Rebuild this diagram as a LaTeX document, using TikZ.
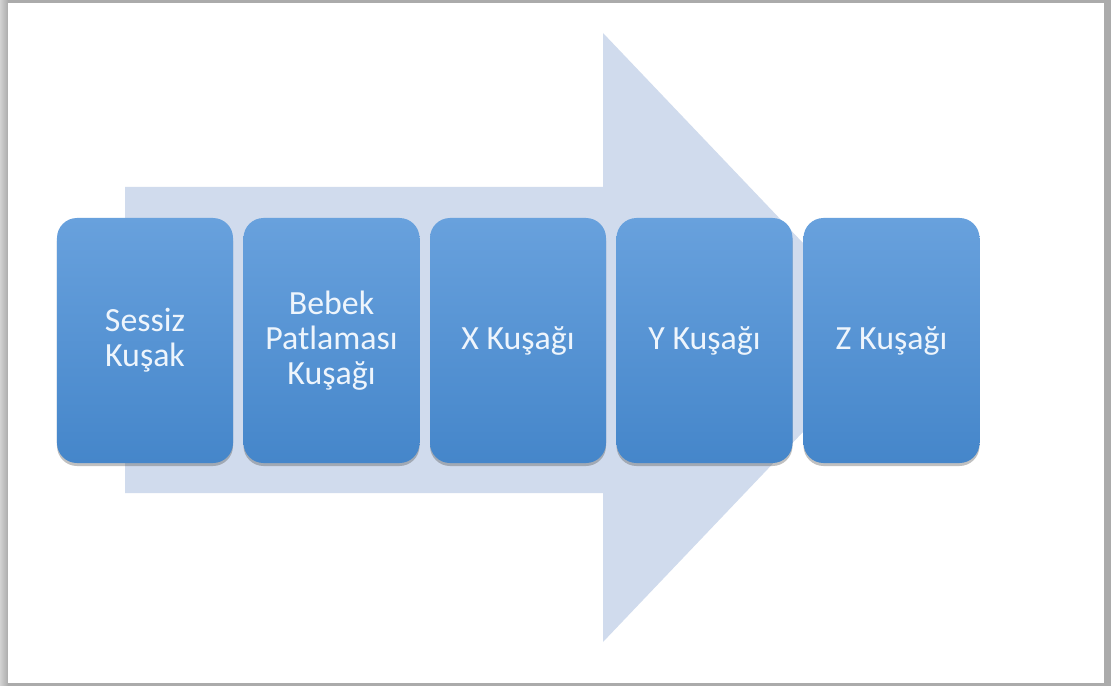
\documentclass[tikz,border=0pt]{standalone}
\usepackage{fontspec}
\setmainfont{Carlito}
\usetikzlibrary{shadows}
\definecolor{framegray}{HTML}{ABABAB}
\definecolor{framelight}{HTML}{D2D2D2}
\definecolor{arrowfill}{HTML}{D0DBED}
\definecolor{boxtop}{HTML}{68A1DD}
\definecolor{boxbottom}{HTML}{4586CA}
\definecolor{boxtext}{HTML}{EEF5FC}
\tikzset{
  genbox/.style={
    rounded corners=20bp,
    minimum width=176bp, minimum height=245bp,
    inner sep=0pt, align=center,
    top color=boxtop, bottom color=boxbottom, draw=none,
    text=boxtext,
    font=\fontsize{34}{35}\selectfont,
    drop shadow={opacity=0.35, shadow xshift=0bp, shadow yshift=-3bp, fill=black!70}
  },
  bigarrow/.style={fill=arrowfill, draw=none}
}
\begin{document}
\begin{tikzpicture}[x=1bp, y=-1bp]
  \useasboundingbox (0,0) rectangle (1111,686);
  % page frame with a soft grey edge
  \fill[framegray] (0,0) rectangle (1111,686);
  \shade[left color=framelight, right color=framegray] (0,0) rectangle (8,686);
  \fill[white] (8,3) rectangle (1104,683);
  % background arrow
  \fill[bigarrow] (125,187) -- (603,187) -- (603,33) -- (893,337.5)
     -- (603,642) -- (603,493) -- (125,493) -- cycle;
  % generation boxes
  \node[genbox] (b1) at (145,340.5) {Sessiz\\Kuşak};
  \node[genbox] (b2) at (331.5,340.5) {Bebek\\Patlaması\\Kuşağı};
  \node[genbox] (b3) at (518,340.5) {X Kuşağı};
  \node[genbox] (b4) at (704.5,340.5) {Y Kuşağı};
  \node[genbox] (b5) at (891.5,340.5) {Z Kuşağı};
\end{tikzpicture}
\end{document}
